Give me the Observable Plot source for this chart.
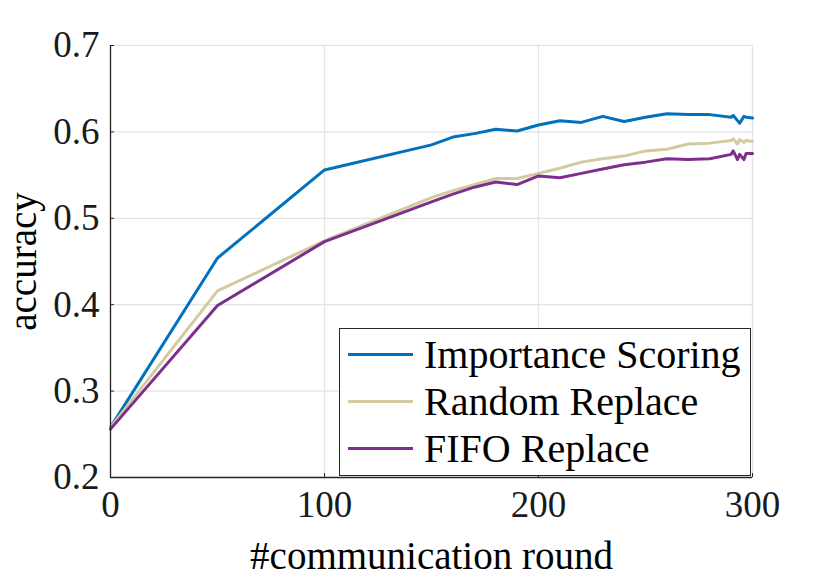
<!DOCTYPE html>
<html>
<head>
<meta charset="utf-8">
<script src="https://cdn.jsdelivr.net/npm/d3@7"></script>
<script src="https://cdn.jsdelivr.net/npm/@observablehq/plot@0.6"></script>
<style>
  html, body { margin: 0; padding: 0; background: #fff; }
  #wrap { position: relative; width: 830px; height: 578px; }
  #legend {
    position: absolute; left: 339px; top: 328px; width: 412px; height: 148px;
    border: 1.3px solid #262626; background: #fff; box-sizing: border-box;
    font-family: "Liberation Serif", "Times New Roman", serif; font-size: 40px; color: #000;
    padding-top: 2px;
  }
  .item { display: flex; align-items: center; height: 47px; }
  .sw { width: 65px; height: 3px; margin-left: 8px; margin-right: 11px; }
</style>
</head>
<body>
<div id="wrap"><div id="chart"></div><div id="legend"></div></div>
<script>
const seriesNames = ["Importance Scoring", "Random Replace", "FIFO Replace"];
const seriesColors = ["#0072BD", "#D4CAA0", "#7E2F8E"];
const rounds = [0, 50, 100, 150, 160, 170, 180, 190, 200, 210, 220, 230, 240, 250, 260, 270, 280, 290, 291, 293, 294, 296, 297, 300];
const importanceScoring = [0.258, 0.454, 0.556, 0.585, 0.594, 0.598, 0.603, 0.601, 0.608, 0.613, 0.611, 0.618, 0.612, 0.617, 0.621, 0.620, 0.620, 0.617, 0.619, 0.613, 0.610, 0.618, 0.617, 0.616];
const randomReplace = [0.258, 0.416, 0.474, 0.524, 0.532, 0.539, 0.546, 0.546, 0.552, 0.558, 0.565, 0.569, 0.572, 0.578, 0.580, 0.586, 0.587, 0.590, 0.592, 0.586, 0.591, 0.588, 0.590, 0.589];
const fifoReplace = [0.256, 0.399, 0.473, 0.519, 0.528, 0.536, 0.542, 0.539, 0.549, 0.547, 0.552, 0.557, 0.562, 0.565, 0.569, 0.568, 0.569, 0.574, 0.578, 0.568, 0.574, 0.568, 0.575, 0.575];
const xTicks = [0, 100, 200, 300];
const yTicks = [0.2, 0.3, 0.4, 0.5, 0.6, 0.7];

const allSeries = [importanceScoring, randomReplace, fifoReplace];
const data = allSeries.flatMap((vals, i) => rounds.map((r, j) => ({round: r, acc: vals[j], series: seriesNames[i]})));

const font = "Liberation Serif, Times New Roman, serif";
const chart = Plot.plot({
  width: 830,
  height: 578,
  marginLeft: 110,
  marginRight: 78,
  marginTop: 45,
  marginBottom: 101,
  style: {fontFamily: font, background: "#fff"},
  x: {domain: [0, 300]},
  y: {domain: [0.2, 0.7]},
  color: {domain: seriesNames, range: seriesColors},
  marks: [
    Plot.gridX(xTicks, {stroke: "#e3e3e3", strokeOpacity: 1, strokeWidth: 1.2}),
    Plot.gridY(yTicks, {stroke: "#e3e3e3", strokeOpacity: 1, strokeWidth: 1.2}),
    Plot.frame({stroke: "#e3e3e3", strokeWidth: 1.2}),
    Plot.line(data, {x: "round", y: "acc", z: "series", stroke: "series", strokeWidth: 3, strokeLinejoin: "round"}),
    Plot.axisX(xTicks, {fontSize: 37, tickSize: -4, tickPadding: 17, stroke: "#262626", color: "#1a1a1a", label: null, tickFormat: d3.format("d")}),
    Plot.axisX({fontSize: 39, tickSize: 0, ticks: [], label: "#communication round", labelAnchor: "center", labelArrow: "none", labelOffset: 91}),
    Plot.axisY(yTicks, {fontSize: 37, tickSize: -4, tickPadding: 15, stroke: "#262626", color: "#1a1a1a", label: null, tickFormat: d3.format(".1f")}),
    Plot.axisY({fontSize: 39, tickSize: 0, ticks: [], label: "accuracy", labelAnchor: "center", labelArrow: "none", labelOffset: 102}),
    Plot.ruleX([0], {stroke: "#262626", strokeWidth: 1.3}),
    Plot.ruleY([0.2], {stroke: "#262626", strokeWidth: 1.3})
  ]
});
document.getElementById("chart").appendChild(chart);

const legend = document.getElementById("legend");
seriesNames.forEach((name, i) => {
  const item = document.createElement("div");
  item.className = "item";
  const sw = document.createElement("div");
  sw.className = "sw";
  sw.style.background = seriesColors[i];
  const label = document.createElement("span");
  label.textContent = name;
  item.appendChild(sw);
  item.appendChild(label);
  legend.appendChild(item);
});
</script>
</body>
</html>
